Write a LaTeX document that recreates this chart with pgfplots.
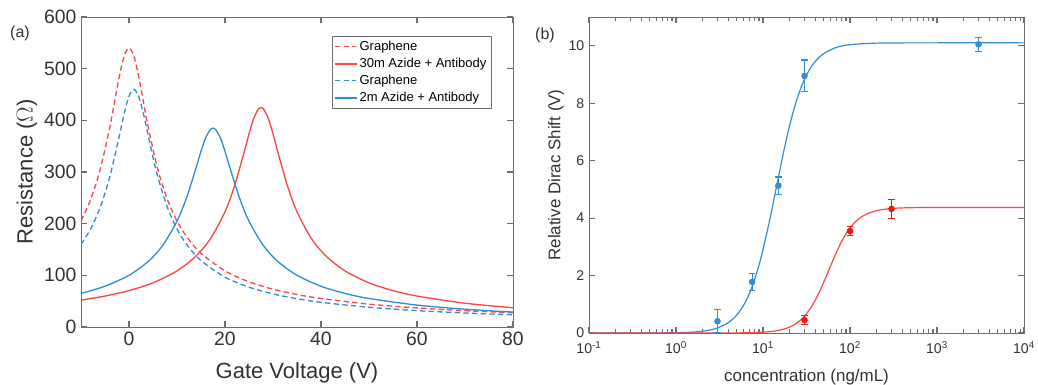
\documentclass[border=0pt]{standalone}
\usepackage{fontspec}
\setmainfont{Liberation Sans}
\usepackage{pgfplots}
\pgfplotsset{compat=1.18}
\definecolor{mblue}{RGB}{50,142,210}
\definecolor{mred}{RGB}{255,70,70}
\definecolor{dred}{RGB}{245,20,20}
\definecolor{axgray}{RGB}{110,110,110}
\definecolor{txt}{RGB}{50,50,50}
\begin{document}
\begin{tikzpicture}
\path[use as bounding box] (0,0) rectangle (778.5pt,288.75pt);
\pgfplotsset{
  every axis/.append style={
    scale only axis, axis line style={axgray, line width=0.6pt},
    every tick/.style={axgray, line width=0.8pt},
    every minor tick/.style={axgray, line width=0.8pt},
    major tick length=4.5pt, minor tick length=3pt,
    tick align=inside,
    /pgf/number format/assume math mode=true,
    tick label style={text=txt},
    label style={text=txt},
  }
}
% ---------- (a) ----------
\begin{axis}[
  at={(60.75pt,43.5pt)}, anchor=south west,
  width=324pt, height=232.5pt,
  xmin=-10, xmax=80, ymin=0, ymax=600,
  xtick={0,20,40,60,80}, ytick={0,100,...,600},
  tick label style={font=\fontsize{14.5}{16}\selectfont},
  xlabel={Gate Voltage (V)}, ylabel={Resistance ($\Omega$)},
  label style={font=\fontsize{16.5}{18}\selectfont},
  xlabel style={at={(axis description cs:0.5,-0.148)}, anchor=center},
  ylabel style={at={(axis description cs:-0.125,0.5)}, anchor=center},
  legend style={at={(axis description cs:0.581,0.939)}, anchor=north west,
    draw=axgray, font=\fontsize{9.75}{11}\selectfont,
    inner sep=1.5pt, row sep=0.2pt, cells={anchor=west}},
  legend cell align=left,
]
\addlegendimage{legend image code/.code={\draw[mred, line width=1pt, dash pattern=on 4pt off 2.5pt] (0pt,0pt) -- (16pt,0pt);}}
\addlegendentry{Graphene}
\addlegendimage{legend image code/.code={\fill[mred] (0pt,-0.55pt) rectangle (16pt,0.55pt);}}
\addlegendentry{30m Azide + Antibody}
\addlegendimage{legend image code/.code={\draw[mblue, line width=1pt, dash pattern=on 4pt off 2.5pt] (0pt,0pt) -- (16pt,0pt);}}
\addlegendentry{Graphene}
\addlegendimage{legend image code/.code={\fill[mblue] (0pt,-0.55pt) rectangle (16pt,0.55pt);}}
\addlegendentry{2m Azide + Antibody}
\addplot[mred, line width=1pt, dash pattern=on 4pt off 2.5pt, smooth, forget plot] coordinates {
(-10,205.2) (-8,246.6) (-6,305.0) (-4,386.8) (-3,436.1) (-2,485.5) (-1,524.7) (0,540)
(1,524.7) (2,485.5) (3,436.1) (4,386.8) (6,305.0) (8,246.6) (10,205.2) (12,174.9)
(15,142.6) (20,108.6) (25,87.5) (30,73.2) (35,62.9) (40,55.2) (50,44.2) (60,36.9)
(70,31.6) (80,27.7)};
\addplot[mred, line width=1pt, solid, smooth, forget plot] coordinates {
(-10,52.0) (-5,59.9) (0,70.5) (5,85.5) (10,108.6) (14,137.7) (17,171.3) (20,223.0)
(22,273.5) (24,338.9) (25,373.8) (26,404.3) (27,422.5) (27.5,425) (28,422.5) (29,404.3)
(30,373.8) (31,338.9) (33,273.5) (35,223.0) (38,171.3) (41,137.7) (45,108.6) (50,85.5)
(55,70.5) (60,59.9) (70,46.0) (80,37.3)};
\addplot[mblue, line width=1pt, dash pattern=on 4pt off 2.5pt, smooth, forget plot] coordinates {
(-10,159.9) (-8,189.9) (-6,231.6) (-4,290.8) (-2,370.5) (-1,413.0) (0,446.8) (1,460)
(2,446.8) (3,413.0) (4,370.5) (5,328.4) (6,290.8) (8,231.6) (10,189.9) (12,159.9)
(15,128.7) (20,96.5) (25,77.1) (30,64.1) (35,54.8) (40,47.8) (50,38.2) (60,31.7)
(70,27.1) (80,23.7)};
\addplot[mblue, line width=1pt, solid, smooth, forget plot] coordinates {
(-10,65.0) (-5,78.9) (0,100.1) (4,126.8) (7,157.6) (10,204.8) (12,250.4) (14,309.0)
(15,340.1) (16,366.8) (17,382.8) (17.5,385) (18,382.8) (19,366.8) (20,340.1) (21,309.0)
(23,250.4) (25,204.8) (28,157.6) (31,126.8) (35,100.1) (40,78.9) (45,65.0) (50,55.2)
(60,42.4) (70,34.4) (80,28.9)};
\end{axis}
\node[text=txt, font=\fontsize{12}{14}\selectfont] at (15pt,264pt) {(a)};
% ---------- (b) ----------
\begin{axis}[
  at={(441.75pt,39pt)}, anchor=south west,
  width=326.25pt, height=237pt,
  xmode=log, xmin=0.1, xmax=10000, ymin=0, ymax=11,
  xtick={0.1,1,10,100,1000,10000},
  minor xtick={0.2,0.3,0.4,0.5,0.6,0.7,0.8,0.9,2,3,4,5,6,7,8,9,20,30,40,50,60,70,80,90,200,300,400,500,600,700,800,900,2000,3000,4000,5000,6000,7000,8000,9000},
  xticklabels={10\textsuperscript{-1},10\textsuperscript{0},10\textsuperscript{1},10\textsuperscript{2},10\textsuperscript{3},10\textsuperscript{4}},
  xticklabel style={yshift=-3pt},
  ytick={0,2,...,10},
  tick label style={font=\fontsize{10.6}{12}\selectfont},
  xlabel={concentration (ng/mL)}, ylabel={Relative Dirac Shift (V)},
  label style={font=\fontsize{12.7}{14}\selectfont},
  xlabel style={at={(axis description cs:0.5,-0.139)}, anchor=center},
  ylabel style={at={(axis description cs:-0.076,0.5)}, anchor=center},
]
\addplot[mblue, line width=0.9pt, smooth] coordinates {
(0.1,0.00003) (0.5,0.0017) (1,0.0102) (1.5,0.0292) (2,0.0615) (2.5,0.109) (3,0.174)
(4,0.361) (5,0.628) (6,0.972) (7,1.385) (8,1.855) (9,2.364) (10,2.898) (12,3.962)
(14,4.957) (16,5.828) (18,6.560) (20,7.162) (23,7.857) (26,8.364) (30,8.837) (35,9.218)
(40,9.460) (50,9.731) (70,9.943) (100,10.037) (200,10.090) (500,10.099) (1000,10.1) (10000,10.1)};
\addplot[mred, line width=0.9pt, smooth] coordinates {
(0.1,0) (1,0.00003) (5,0.0038) (10,0.0279) (15,0.0892) (20,0.200) (25,0.367) (30,0.588)
(35,0.855) (40,1.152) (45,1.464) (50,1.775) (57,2.185) (65,2.596) (75,3.011) (85,3.326)
(100,3.654) (120,3.918) (150,4.121) (200,4.258) (300,4.335) (500,4.362) (1000,4.368) (10000,4.37)};
\addplot[mblue, only marks, mark=*, mark size=2pt, line width=0.9pt,
  error bars/.cd, y dir=both, y explicit,
  error mark options={rotate=90, mark size=2.5pt, line width=0.9pt, mblue}]
  table[x=x, y=y, y error=e] {
x y e
3 0.41 0.40
7.5 1.78 0.29
15 5.13 0.30
30 8.95 0.55
3000 10.05 0.25
};
\addplot[dred, only marks, mark=*, mark size=2pt, line width=0.9pt,
  error bars/.cd, y dir=both, y explicit,
  error mark options={rotate=90, mark size=2.5pt, line width=0.9pt, dred}]
  table[x=x, y=y, y error=e] {
x y e
30 0.45 0.15
100 3.55 0.15
300 4.32 0.33
};
\end{axis}
\node[text=txt, font=\fontsize{12}{14}\selectfont] at (408.75pt,262.5pt) {(b)};
\end{tikzpicture}
\end{document}
